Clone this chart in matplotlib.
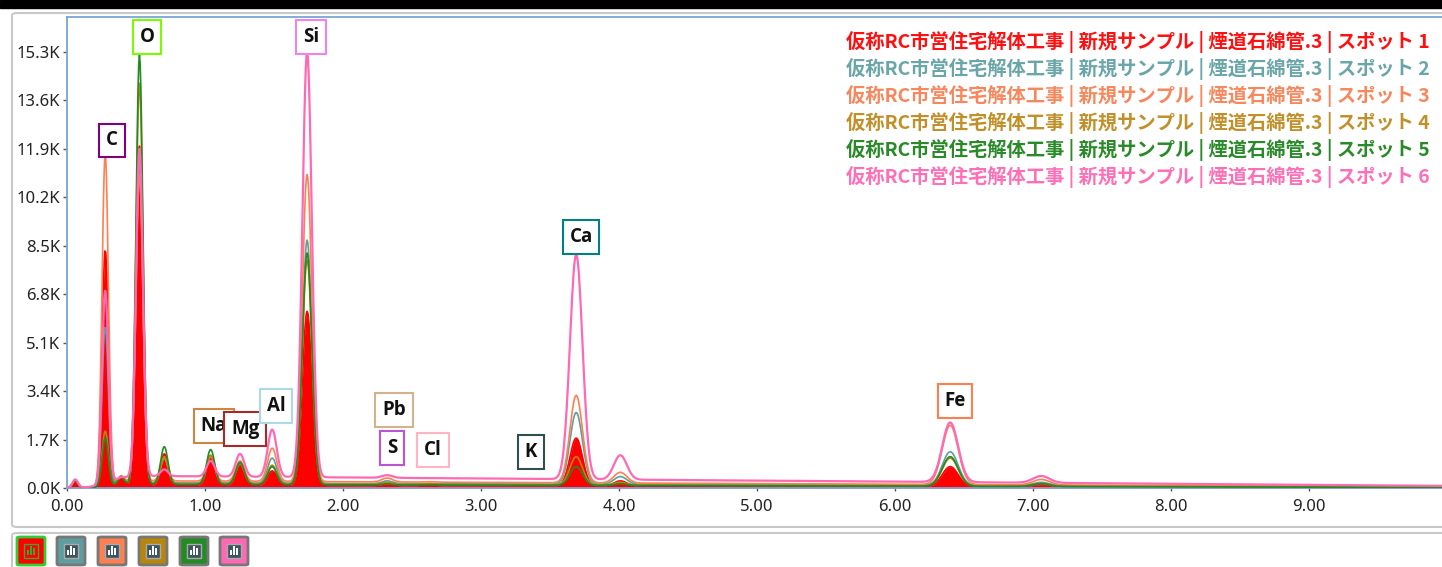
import numpy as np
import matplotlib
matplotlib.use("Agg")
import matplotlib.pyplot as plt
from matplotlib.patches import Rectangle, FancyBboxPatch

# peak energies (keV) shared by all spots
peak_energy = [0.06, 0.277, 0.392, 0.525, 0.705, 1.041, 1.254, 1.487, 1.740,
               2.32, 2.62, 3.31, 3.69, 4.01, 6.40, 7.06]

# peak heights (counts), one list per spot
spot1 = [250, 8350, 420, 12000, 1200, 1100, 850, 600, 6200,
         150, 120, 60, 1750, 250, 750, 120]
spot2 = [250, 5650, 400, 11500, 1050, 1150, 850, 1050, 8700,
         250, 160, 90, 2650, 400, 1270, 200]
spot3 = [280, 11750, 420, 11000, 1050, 1100, 950, 1400, 11000,
         350, 220, 110, 3250, 550, 2200, 300]
spot4 = [250, 2000, 400, 14200, 1100, 1150, 850, 800, 8000,
         200, 150, 60, 1100, 200, 1050, 150]
spot5 = [250, 1750, 380, 15200, 1450, 1350, 900, 750, 8250,
         150, 120, 50, 750, 150, 1100, 150]
spot6 = [300, 6950, 380, 11900, 650, 950, 1200, 2050, 15300,
         450, 300, 160, 8200, 1150, 2300, 420]

# continuum level near 2 keV (counts)
bg_level = [80, 160, 220, 130, 110, 370]

series_names = ["仮称RC市営住宅解体工事 | 新規サンプル | 煙道石綿管.3 | スポット %d" % i
                for i in range(1, 7)]
series_colors = ["#ff0000", "#5f9ea0", "#ff7f50", "#b8860b", "#228b22", "#ff69b4"]
text_colors = ["#ff1010", "#6aa6a8", "#f7875c", "#c0902a", "#2a8a2a", "#ff6fb5"]

# element markers: name, x (keV), y (counts), box edge colour
labels = [("C", 0.326, 12200, "#800080"), ("O", 0.58, 15830, "#7cfc00"),
          ("Si", 1.768, 15830, "#ee82ee"), ("Na", 1.065, 2180, "#cd853f"),
          ("Mg", 1.29, 2070, "#a52a2a"), ("Al", 1.514, 2880, "#add8e6"),
          ("Pb", 2.37, 2740, "#d2b48c"), ("S", 2.355, 1400, "#ba55d3"),
          ("Cl", 2.652, 1330, "#ffb6c1"), ("K", 3.362, 1260, "#2f4f4f"),
          ("Ca", 3.725, 8810, "#008080"), ("Fe", 6.435, 3050, "#ff7f50")]

energy = np.arange(0.0, 10.0, 0.005)


def continuum(e, level):
    return level * (1 - np.exp(-(e / 0.35) ** 3)) * (12 - e) / 10


def spectrum(heights, level):
    y = continuum(energy, level)
    for e0, h in zip(peak_energy, heights):
        fwhm = np.sqrt(2221 + 2.49 * e0 * 1000) / 1000
        sigma = fwhm / 2.355
        amp = max(h - continuum(np.array(e0), level), 0)
        y = y + amp * np.exp(-0.5 * ((energy - e0) / sigma) ** 2)
    return y


W, H = 1442, 567
fig = plt.figure(figsize=(W / 100, H / 100), dpi=100)

# window chrome
fig.patches.append(Rectangle((0, 1 - 8 / H), 1, 8 / H, transform=fig.transFigure,
                             color="black", zorder=-5))
fig.patches.append(FancyBboxPatch((12 / W, 40 / H), 1.2, (527 - 13) / H,
                                  boxstyle="round,pad=0,rounding_size=0.004",
                                  transform=fig.transFigure, fc="white",
                                  ec="#c8c8c8", lw=1.5, zorder=-5))
fig.patches.append(FancyBboxPatch((12 / W, -0.02), 1.2, (34 / H) + 0.02,
                                  boxstyle="round,pad=0,rounding_size=0.004",
                                  transform=fig.transFigure, fc="white",
                                  ec="#c8c8c8", lw=1.5, zorder=-5))

ax = fig.add_axes([67 / W, (H - 488) / H, 1 - 67 / W, (488 - 17) / H])
ax.set_facecolor("none")
ax.set_zorder(1)

all_spots = [spot1, spot2, spot3, spot4, spot5, spot6]
curves = [spectrum(s, b) for s, b in zip(all_spots, bg_level)]

ax.fill_between(energy, 0, curves[0], color=series_colors[0], lw=0, zorder=1)
for i, (c, col) in enumerate(zip(curves, series_colors)):
    ax.plot(energy, c, color=col, lw=1.6 if i == 5 else 1.2, zorder=2 + i)

ax.set_xlim(0, (W - 67) / 138)
ax.set_ylim(0, 16530)

yt = np.arange(0, 15301, 1700)
ax.set_yticks(yt)
ax.set_yticklabels(["%.1fK" % (v / 1000) for v in yt], fontsize=12,
                   family="Noto Sans", color="#222222")
xt = np.arange(0, 10)
ax.set_xticks(xt)
ax.set_xticklabels(["%.2f" % v for v in xt], fontsize=12, family="Noto Sans",
                   color="#222222")
ax.tick_params(axis="y", length=3, width=1, color="#555555", pad=2)
ax.tick_params(axis="x", length=2, width=1, color="#555555", pad=6)

for side in ["left", "top", "bottom"]:
    ax.spines[side].set_color("#7aa6d6")
    ax.spines[side].set_linewidth(1.3)
ax.spines["right"].set_visible(False)

for name, x, y, ec in labels:
    ax.text(x, y, name, ha="center", va="center", fontsize=13.5,
            family="Open Sans", fontweight="bold", color="#111111", zorder=10,
            bbox=dict(boxstyle="square,pad=0.36", fc="white", ec=ec, lw=1.5))

# series titles, top right
for i, (name, col) in enumerate(zip(series_names, text_colors)):
    fig.text(1430 / W, 1 - (42 + 27 * i) / H, name, ha="right", va="center",
             fontsize=13.9, fontweight="bold", color=col, zorder=20,
             family=["Noto Sans CJK JP", "DejaVu Sans"])

# series toggle buttons
btn_x = [17, 57, 98, 139, 180, 220]
for i, (bx, col) in enumerate(zip(btn_x, series_colors)):
    ec = "#33cc33" if i == 0 else "#777777"
    fig.patches.append(FancyBboxPatch((bx / W, 2 / H), 28 / W, 28 / H,
                                      boxstyle="round,pad=0,rounding_size=0.002",
                                      transform=fig.transFigure, fc=col, ec=ec,
                                      lw=2, zorder=3))
    inner = "#ff0000" if i == 0 else "#3d5560"
    iec = "#33aa33" if i == 0 else "#aaaaaa"
    fig.patches.append(Rectangle(((bx + 7) / W, 9 / H), 14 / W, 14 / H,
                                 transform=fig.transFigure, fc=inner, ec=iec,
                                 lw=1, zorder=4))
    barc = "#33aa33" if i == 0 else "white"
    for k, bh in enumerate([5, 9, 7]):
        fig.patches.append(Rectangle(((bx + 10 + 3 * k) / W, 12 / H), 1.6 / W,
                                     bh / H, transform=fig.transFigure,
                                     fc=barc, ec="none", zorder=5))

fig.savefig("out.png", dpi=100)
